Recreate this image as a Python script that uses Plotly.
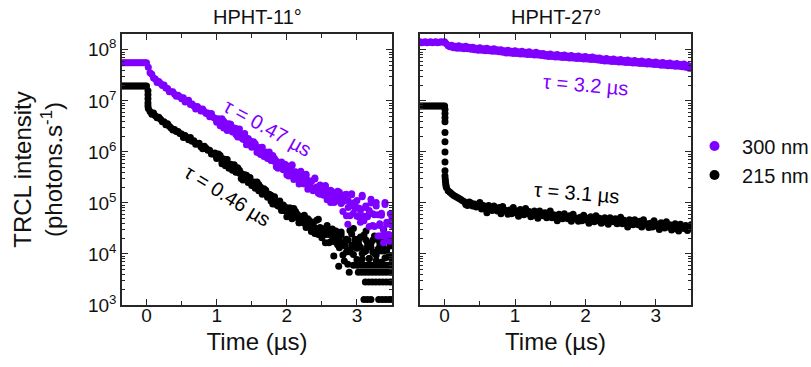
import plotly.graph_objects as go

# ---------------- data ----------------
time_us = [
    -0.35, -0.325, -0.3, -0.275, -0.25, -0.225, -0.2, -0.175, -0.15, -0.125, -0.1, -0.075, -0.05, -0.025, 0.0,
    0.025, 0.05, 0.075, 0.1, 0.125, 0.15, 0.175, 0.2, 0.225, 0.25, 0.275, 0.3, 0.325, 0.35, 0.375, 0.4, 0.425, 0.45, 0.475, 0.5,
    0.525, 0.55, 0.575, 0.6, 0.625, 0.65, 0.675, 0.7, 0.725, 0.75, 0.775, 0.8, 0.825, 0.85, 0.875, 0.9, 0.925, 0.95, 0.975, 1.0,
    1.025, 1.05, 1.075, 1.1, 1.125, 1.15, 1.175, 1.2, 1.225, 1.25, 1.275, 1.3, 1.325, 1.35, 1.375, 1.4, 1.425, 1.45, 1.475, 1.5,
    1.525, 1.55, 1.575, 1.6, 1.625, 1.65, 1.675, 1.7, 1.725, 1.75, 1.775, 1.8, 1.825, 1.85, 1.875, 1.9, 1.925, 1.95, 1.975, 2.0,
    2.025, 2.05, 2.075, 2.1, 2.125, 2.15, 2.175, 2.2, 2.225, 2.25, 2.275, 2.3, 2.325, 2.35, 2.375, 2.4, 2.425, 2.45, 2.475, 2.5,
    2.525, 2.55, 2.575, 2.6, 2.625, 2.65, 2.675, 2.7, 2.725, 2.75, 2.775, 2.8, 2.825, 2.85, 2.875, 2.9, 2.925, 2.95, 2.975, 3.0,
    3.025, 3.05, 3.075, 3.1, 3.125, 3.15, 3.175, 3.2, 3.225, 3.25, 3.275, 3.3, 3.325, 3.35, 3.375, 3.4, 3.425, 3.45, 3.475, 3.5,
]
# the HPHT-11° records hold a second, overlapping acquisition from t = 1.0 µs on
SECOND_READ_START = 54   # index of t = 1.0 in time_us

# HPHT-11°, 300 nm  (log10 of photons/s)
log10_hpht11_300nm = [
    7.745, 7.745, 7.745, 7.745, 7.745, 7.745, 7.745, 7.745, 7.745, 7.745, 7.745, 7.745, 7.745, 7.745, 7.745,
    7.66, 7.55, 7.52, 7.45, 7.43, 7.36, 7.38, 7.34, 7.30, 7.31,
    7.25, 7.24, 7.18, 7.18, 7.18, 7.13, 7.09, 7.11, 7.08, 7.04,
    7.06, 6.98, 6.99, 7.01, 6.93, 6.94, 6.90, 6.84, 6.89, 6.85,
    6.80, 6.84, 6.79, 6.75, 6.76, 6.69, 6.75, 6.68, 6.66,
    6.62, 6.65, 6.51, 6.57, 6.60, 6.49, 6.42, 6.55, 6.48, 6.43,
    6.47, 6.34, 6.38, 6.45, 6.28, 6.32, 6.24, 6.14, 6.26, 6.18,
    6.09, 6.20, 6.11, 6.04, 6.08, 5.95, 6.09, 5.97, 5.96, 5.87,
    5.94, 5.83, 5.93, 5.81, 5.82, 5.68, 5.79, 5.72, 5.66, 5.76,
    5.73, 5.53, 5.61, 5.75, 5.51, 5.60, 5.50, 5.37, 5.59, 5.49,
    5.37, 5.56, 5.44, 5.34, 5.43, 5.24, 5.47, 5.29, 5.29, 5.17,
    5.30, 5.15, 5.34, 5.17, 5.20, 5.01, 5.22, 5.12, 5.04, 5.23,
    5.04, 5.11,
    4.83, 5.05, 5.17, 4.91, 4.75, 5.16, 5.00, 4.90, 5.05, 4.73,
    4.88, 5.15, 4.74, 4.91, 4.75, 4.54, 5.00, 4.79, 4.54, 5.01,
    4.77, 4.56, 4.80, 4.37, 4.97, 4.58, 4.61, 4.37, 4.71,
]
log10_hpht11_300nm_read2 = [
    6.58, 6.61, 6.57, 6.65, 6.47, 6.56, 6.47, 6.50, 6.54, 6.39,
    6.43, 6.46, 6.29, 6.33, 6.35, 6.25, 6.36, 6.23, 6.14, 6.22,
    6.13, 6.14, 6.16, 5.99, 6.01, 6.08, 6.01, 5.91, 6.00, 5.91,
    6.00, 5.84, 5.85, 5.87, 5.71, 5.79, 5.73, 5.80, 5.65, 5.70,
    5.55, 5.63, 5.59, 5.73, 5.46, 5.61, 5.48, 5.54, 5.62, 5.39,
    5.47, 5.53, 5.27, 5.36, 5.42, 5.29, 5.49, 5.31, 5.19, 5.35,
    5.23, 5.26, 5.32, 5.06, 5.12, 5.25, 5.16, 5.01, 5.16, 5.05,
    5.21, 4.99,
    5.03, 5.16, 4.75, 5.05, 4.94, 5.18, 4.80, 5.01, 4.74, 4.90,
    4.85, 5.12, 4.65, 4.94, 4.73, 4.85, 5.07, 4.56, 4.77, 4.94,
    4.35, 4.59, 4.76, 4.49, 5.01, 4.62, 4.38, 4.79, 4.56,
]
hpht11_300nm_extra_t = [2.87, 3.05, 3.33, 3.38, 3.42, 3.47]
log10_hpht11_300nm_extra = [4.58, 4.62, 4.35, 4.22, 4.33, 4.25]

# HPHT-11°, 215 nm
log10_hpht11_215nm = [
    7.29, 7.29, 7.29, 7.29, 7.29, 7.29, 7.29, 7.29, 7.29, 7.29, 7.29, 7.29, 7.29, 7.29, 7.29,
    6.85, 6.79, 6.74, 6.76, 6.71, 6.67, 6.68, 6.64, 6.59, 6.59,
    6.53, 6.55, 6.50, 6.47, 6.43, 6.44, 6.40, 6.40, 6.36, 6.35,
    6.28, 6.32, 6.28, 6.24, 6.28, 6.21, 6.22, 6.15, 6.16, 6.17,
    6.10, 6.06, 6.11, 6.07, 6.03, 6.03, 5.96, 5.96, 5.98,
    5.87, 5.96, 5.89, 5.82, 5.86, 5.73, 5.85, 5.74, 5.72, 5.64,
    5.70, 5.60, 5.69, 5.58, 5.58, 5.45, 5.55, 5.47, 5.41, 5.50,
    5.37, 5.41, 5.29, 5.34, 5.36, 5.25, 5.17, 5.28, 5.20, 5.14,
    5.17, 5.04, 5.06, 5.12, 4.97, 5.00, 4.93, 4.85, 4.96, 4.89,
    4.73, 4.90, 4.81, 4.74, 4.89, 4.72, 4.78, 4.61, 4.69, 4.74,
    4.60, 4.52, 4.69, 4.61, 4.55, 4.61, 4.40, 4.50, 4.68, 4.38,
    4.50, 4.38, 4.22, 4.50, 4.38, 4.24, 4.49, 4.35, 4.23, 4.36,
    4.12, 4.43, 4.20, 4.22, 4.04,
    4.27, 4.04, 4.39, 4.13, 4.21, 3.89, 4.28, 4.13, 4.01, 4.37,
    4.06, 4.22, 3.91, 4.13, 4.27, 4.01, 3.87, 4.29, 4.15, 4.06,
    4.23, 3.92, 4.08, 4.36, 3.97, 4.16,
]
log10_hpht11_215nm_read2 = [
    5.90, 5.91, 5.93, 5.77, 5.79, 5.85, 5.78, 5.68, 5.76, 5.68,
    5.75, 5.61, 5.62, 5.64, 5.48, 5.55, 5.49, 5.54, 5.40, 5.44,
    5.34, 5.37, 5.34, 5.41, 5.24, 5.31, 5.22, 5.23, 5.25, 5.11,
    5.13, 5.15, 4.98, 5.01, 5.03, 4.94, 5.04, 4.93, 4.85, 4.92,
    4.84, 4.86, 4.90, 4.69, 4.73, 4.83, 4.74, 4.61, 4.73, 4.63,
    4.76, 4.57, 4.60, 4.65, 4.44, 4.57, 4.50, 4.66, 4.38, 4.52,
    4.32, 4.42, 4.38, 4.56, 4.22, 4.42, 4.27, 4.35, 4.45, 4.18,
    4.28, 4.37,
    3.98, 4.16, 4.29, 4.08, 4.46, 4.17, 3.99, 4.29, 4.11, 4.19,
    4.33, 3.90, 4.04, 4.28, 4.14, 3.91, 4.21, 4.04, 4.35, 3.98,
    4.09, 4.23, 3.84, 4.14, 4.06, 4.30, 3.94, 4.16, 3.91,
]
# vertical step at t = 0 and extra (quantised, low-count) points of HPHT-11°, 215 nm
hpht11_215nm_extra_t = [
    0.02, 0.02, 0.02, 0.02, 0.02,
    2.67, 2.74, 2.82, 2.87, 2.89,
    2.95, 3.13, 3.38,
    2.95, 3.00, 3.05, 3.10, 3.15, 3.20, 3.25, 3.30, 3.35, 3.40, 3.45, 3.50,
    3.02, 3.07, 3.12, 3.17, 3.22, 3.27, 3.32, 3.37, 3.42, 3.47, 3.50,
    3.12, 3.17, 3.22, 3.27, 3.32, 3.37, 3.42, 3.47, 3.50,
    3.10, 3.15, 3.20, 3.31, 3.36, 3.41, 3.46, 3.50,
]
log10_hpht11_215nm_extra = [
    7.20, 7.12, 7.04, 6.96, 6.90,
    3.96, 3.76, 3.86, 3.80, 3.64,
    4.50, 4.45, 4.48,
    3.78, 3.78, 3.78, 3.78, 3.78, 3.78, 3.78, 3.78, 3.78, 3.78, 3.78, 3.78,
    3.64, 3.64, 3.64, 3.64, 3.64, 3.64, 3.64, 3.64, 3.64, 3.64, 3.64,
    3.45, 3.45, 3.45, 3.45, 3.45, 3.45, 3.45, 3.45, 3.45,
    3.11, 3.11, 3.11, 3.11, 3.11, 3.11, 3.11, 3.11,
]

# HPHT-27°, 300 nm
log10_hpht27_300nm = [
    8.16, 8.14, 8.15, 8.16, 8.14, 8.15, 8.16, 8.14, 8.15, 8.16, 8.14, 8.15, 8.16, 8.15, 8.16,
    8.12, 8.08, 8.06,
    8.09, 8.04, 8.07, 8.03,  8.08, 8.03, 8.06, 8.02,  8.07, 8.02, 8.05, 8.01,  8.05, 8.00, 8.03, 7.99,
    8.04, 7.99, 8.02, 7.98,  8.03, 7.98, 8.01, 7.97,  8.02, 7.97, 8.00, 7.96,  8.00, 7.95, 7.98, 7.94,
    7.99, 7.94, 7.97, 7.93,  7.98, 7.93, 7.96, 7.92,  7.97, 7.92, 7.95, 7.91,  7.96, 7.91, 7.94, 7.90,
    7.95, 7.90, 7.93, 7.89,  7.93, 7.88, 7.91, 7.87,  7.92, 7.87, 7.90, 7.86,  7.91, 7.86, 7.89, 7.85,
    7.90, 7.85, 7.88, 7.84,  7.89, 7.84, 7.87, 7.83,  7.88, 7.83, 7.86, 7.82,  7.87, 7.82, 7.85, 7.81,
    7.86, 7.81, 7.84, 7.80,  7.84, 7.79, 7.82, 7.78,  7.83, 7.78, 7.81, 7.77,  7.82, 7.77, 7.80, 7.76,
    7.81, 7.76, 7.79, 7.75,  7.80, 7.75, 7.78, 7.74,  7.79, 7.74, 7.77, 7.73,  7.78, 7.73, 7.76, 7.72,
    7.77, 7.72, 7.75, 7.71,  7.76, 7.71, 7.74, 7.70,  7.75, 7.70, 7.73, 7.69,  7.74, 7.69, 7.72, 7.68,
    7.73, 7.68, 7.71, 7.67,  7.72, 7.66, 7.70, 7.64,
    7.68,
]

# HPHT-27°, 215 nm
log10_hpht27_215nm = [
    6.90, 6.90, 6.90, 6.90, 6.90, 6.90, 6.90, 6.90, 6.90, 6.90, 6.90, 6.90, 6.90, 6.90, 6.90,
    5.30, 5.24, 5.21, 5.18, 5.15, 5.13, 5.11, 5.09, 5.07, 5.05, 5.03,
    4.97, 4.95, 5.02, 5.00,  4.94, 4.98, 4.92, 4.95,  5.01, 4.88, 4.95, 4.90,  4.81, 4.95, 4.90, 4.85,
    4.94, 4.89, 4.84, 4.91,  4.79, 4.93, 4.84, 4.85,  4.78, 4.86, 4.79, 4.91,  4.81, 4.84, 4.74, 4.87,
    4.81, 4.77, 4.89, 4.79,  4.83, 4.73, 4.80, 4.84,  4.75, 4.70, 4.84, 4.79,  4.75, 4.81, 4.71, 4.76,
    4.84, 4.71, 4.77, 4.73,  4.65, 4.78, 4.74, 4.69,  4.79, 4.73, 4.69, 4.75,  4.64, 4.78, 4.69, 4.70,
    4.64, 4.72, 4.65, 4.76,  4.67, 4.70, 4.60, 4.73,  4.67, 4.63, 4.75, 4.65,  4.70, 4.60, 4.67, 4.71,
    4.62, 4.58, 4.71, 4.67,  4.63, 4.69, 4.59, 4.64,  4.72, 4.59, 4.66, 4.61,  4.53, 4.67, 4.62, 4.57,
    4.67, 4.62, 4.57, 4.64,  4.53, 4.67, 4.58, 4.59,  4.52, 4.60, 4.53, 4.65,  4.55, 4.58, 4.48, 4.61,
    4.55, 4.51, 4.63, 4.53,  4.57, 4.47, 4.54, 4.59,  4.49, 4.45, 4.58, 4.54,  4.50, 4.56, 4.46, 4.51,
    4.57,
]
# points of the fast drop at t = 0 for HPHT-27°, 215 nm
hpht27_215nm_drop_t = [0.005, 0.005, 0.005, 0.005, 0.005, 0.005, 0.005, 0.005, 0.005, 0.005,
                       0.008, 0.012, 0.016, 0.02]
log10_hpht27_215nm_drop = [6.83, 6.75, 6.67, 6.59, 6.38, 6.20, 6.00, 5.80, 5.63, 5.53,
                           5.47, 5.42, 5.37, 5.33]

panel_titles = ["HPHT-11°", "HPHT-27°"]
series_names = ["300 nm", "215 nm"]
tau_labels = ["τ = 0.47 µs", "τ = 0.46 µs", "τ = 3.2 µs", "τ = 3.1 µs"]
y_tick_exponents = [3, 4, 5, 6, 7, 8]
x_tick_values = [0, 1, 2, 3]

# ---------------- styling ----------------
PURPLE = "#7F00FF"
BLACK = "#000000"
FONT = "Arial, Liberation Sans, sans-serif"
TXT = "#111111"
MS = 7


def lin(vals):
    return [10 ** v for v in vals]


fig = go.Figure()


def add(x, logy, color, xa, ya):
    fig.add_trace(go.Scatter(
        x=x, y=lin(logy), mode="markers", xaxis=xa, yaxis=ya,
        marker=dict(color=color, size=MS, line=dict(width=0)),
        showlegend=False, hoverinfo="skip"))


t_read2 = time_us[SECOND_READ_START:]
# left panel
add(time_us, log10_hpht11_215nm, BLACK, "x", "y")
add(t_read2, log10_hpht11_215nm_read2, BLACK, "x", "y")
add(hpht11_215nm_extra_t, log10_hpht11_215nm_extra, BLACK, "x", "y")
add(time_us, log10_hpht11_300nm, PURPLE, "x", "y")
add(t_read2, log10_hpht11_300nm_read2, PURPLE, "x", "y")
add(hpht11_300nm_extra_t, log10_hpht11_300nm_extra, PURPLE, "x", "y")
# right panel
add(time_us, log10_hpht27_215nm, BLACK, "x2", "y2")
add(hpht27_215nm_drop_t, log10_hpht27_215nm_drop, BLACK, "x2", "y2")
add(time_us, log10_hpht27_300nm, PURPLE, "x2", "y2")

# legend entries
for name, color in zip(series_names, [PURPLE, BLACK]):
    fig.add_trace(go.Scatter(x=[None], y=[None], mode="markers", name=name,
                             marker=dict(color=color, size=10), xaxis="x", yaxis="y"))

AX_COLOR = "#262626"
xcommon = dict(range=[-0.35, 3.5], tickmode="array", tickvals=x_tick_values,
               ticks="inside", ticklen=6, tickwidth=1.2, tickcolor=AX_COLOR,
               minor=dict(dtick=0.5, tick0=0, ticks="inside", ticklen=4, tickwidth=1.2, tickcolor=AX_COLOR),
               showline=True, linecolor=AX_COLOR, linewidth=1.5, mirror="allticks",
               showgrid=False, zeroline=False, automargin=False,
               ticklabelstandoff=-8,
               tickfont=dict(family=FONT, size=19, color=TXT),
               title=dict(text="Time (µs)", font=dict(family=FONT, size=24, color=TXT), standoff=9))
ycommon = dict(type="log", range=[3, 8.31],
               tickmode="array", tickvals=[10 ** e for e in y_tick_exponents],
               ticktext=["10<sup>%d</sup>" % e for e in y_tick_exponents],
               ticks="inside", ticklen=6, tickwidth=1.2, tickcolor=AX_COLOR,
               minor=dict(dtick="D1", ticks="inside", ticklen=3, tickwidth=1, tickcolor=AX_COLOR),
               showline=True, linecolor=AX_COLOR, linewidth=1.5, mirror="allticks",
               showgrid=False, zeroline=False, automargin=False,
               tickfont=dict(family=FONT, size=19, color=TXT))

W, H = 811, 367
L, R, T, B = 122, 120, 34, 62
pw = W - L - R
fig.update_layout(
    width=W, height=H,
    margin=dict(l=L, r=R, t=T, b=B, autoexpand=False),
    paper_bgcolor="white", plot_bgcolor="white",
    xaxis=dict(domain=[0, 270 / pw], anchor="y", **xcommon),
    xaxis2=dict(domain=[298 / pw, 1], anchor="y2", **xcommon),
    yaxis=dict(domain=[0, 1], anchor="x", **ycommon,
               title=dict(text="TRCL intensity<br>(photons.s<sup>-1</sup>)",
                          font=dict(family=FONT, size=24, color=TXT), standoff=18)),
    yaxis2=dict(domain=[0, 1], anchor="x2", showticklabels=False, **ycommon),
    legend=dict(x=0.993, y=0.533, xanchor="left", yanchor="middle",
                font=dict(family=FONT, size=20, color=TXT), bgcolor="rgba(0,0,0,0)",
                tracegroupgap=0, itemwidth=45),
    showlegend=True,
)

# panel titles
for title, xr in zip(panel_titles, ["x domain", "x2 domain"]):
    fig.add_annotation(text=title, xref=xr, yref="paper", x=0.5, y=1, yshift=17,
                       yanchor="middle", showarrow=False,
                       font=dict(family=FONT, size=20, color=TXT))

# lifetime labels
tau_pos = [("x", "y", 1.73, 6.46, 29, PURPLE),
           ("x", "y", 1.16, 5.13, 32, BLACK),
           ("x2", "y2", 2.01, 7.31, 5, PURPLE),
           ("x2", "y2", 1.88, 5.20, 5, BLACK)]
for text, (xr, yr, x, y, ang, col) in zip(tau_labels, tau_pos):
    fig.add_annotation(text=text, xref=xr, yref=yr, x=x, y=y, textangle=ang,
                       showarrow=False, font=dict(family=FONT, size=20, color=col))

# page body margin set to 0 so the 811x367 figure fills the window exactly
fig.write_html("out.html", config={"displayModeBar": False},
               post_script="document.body.style.margin='0px';")
